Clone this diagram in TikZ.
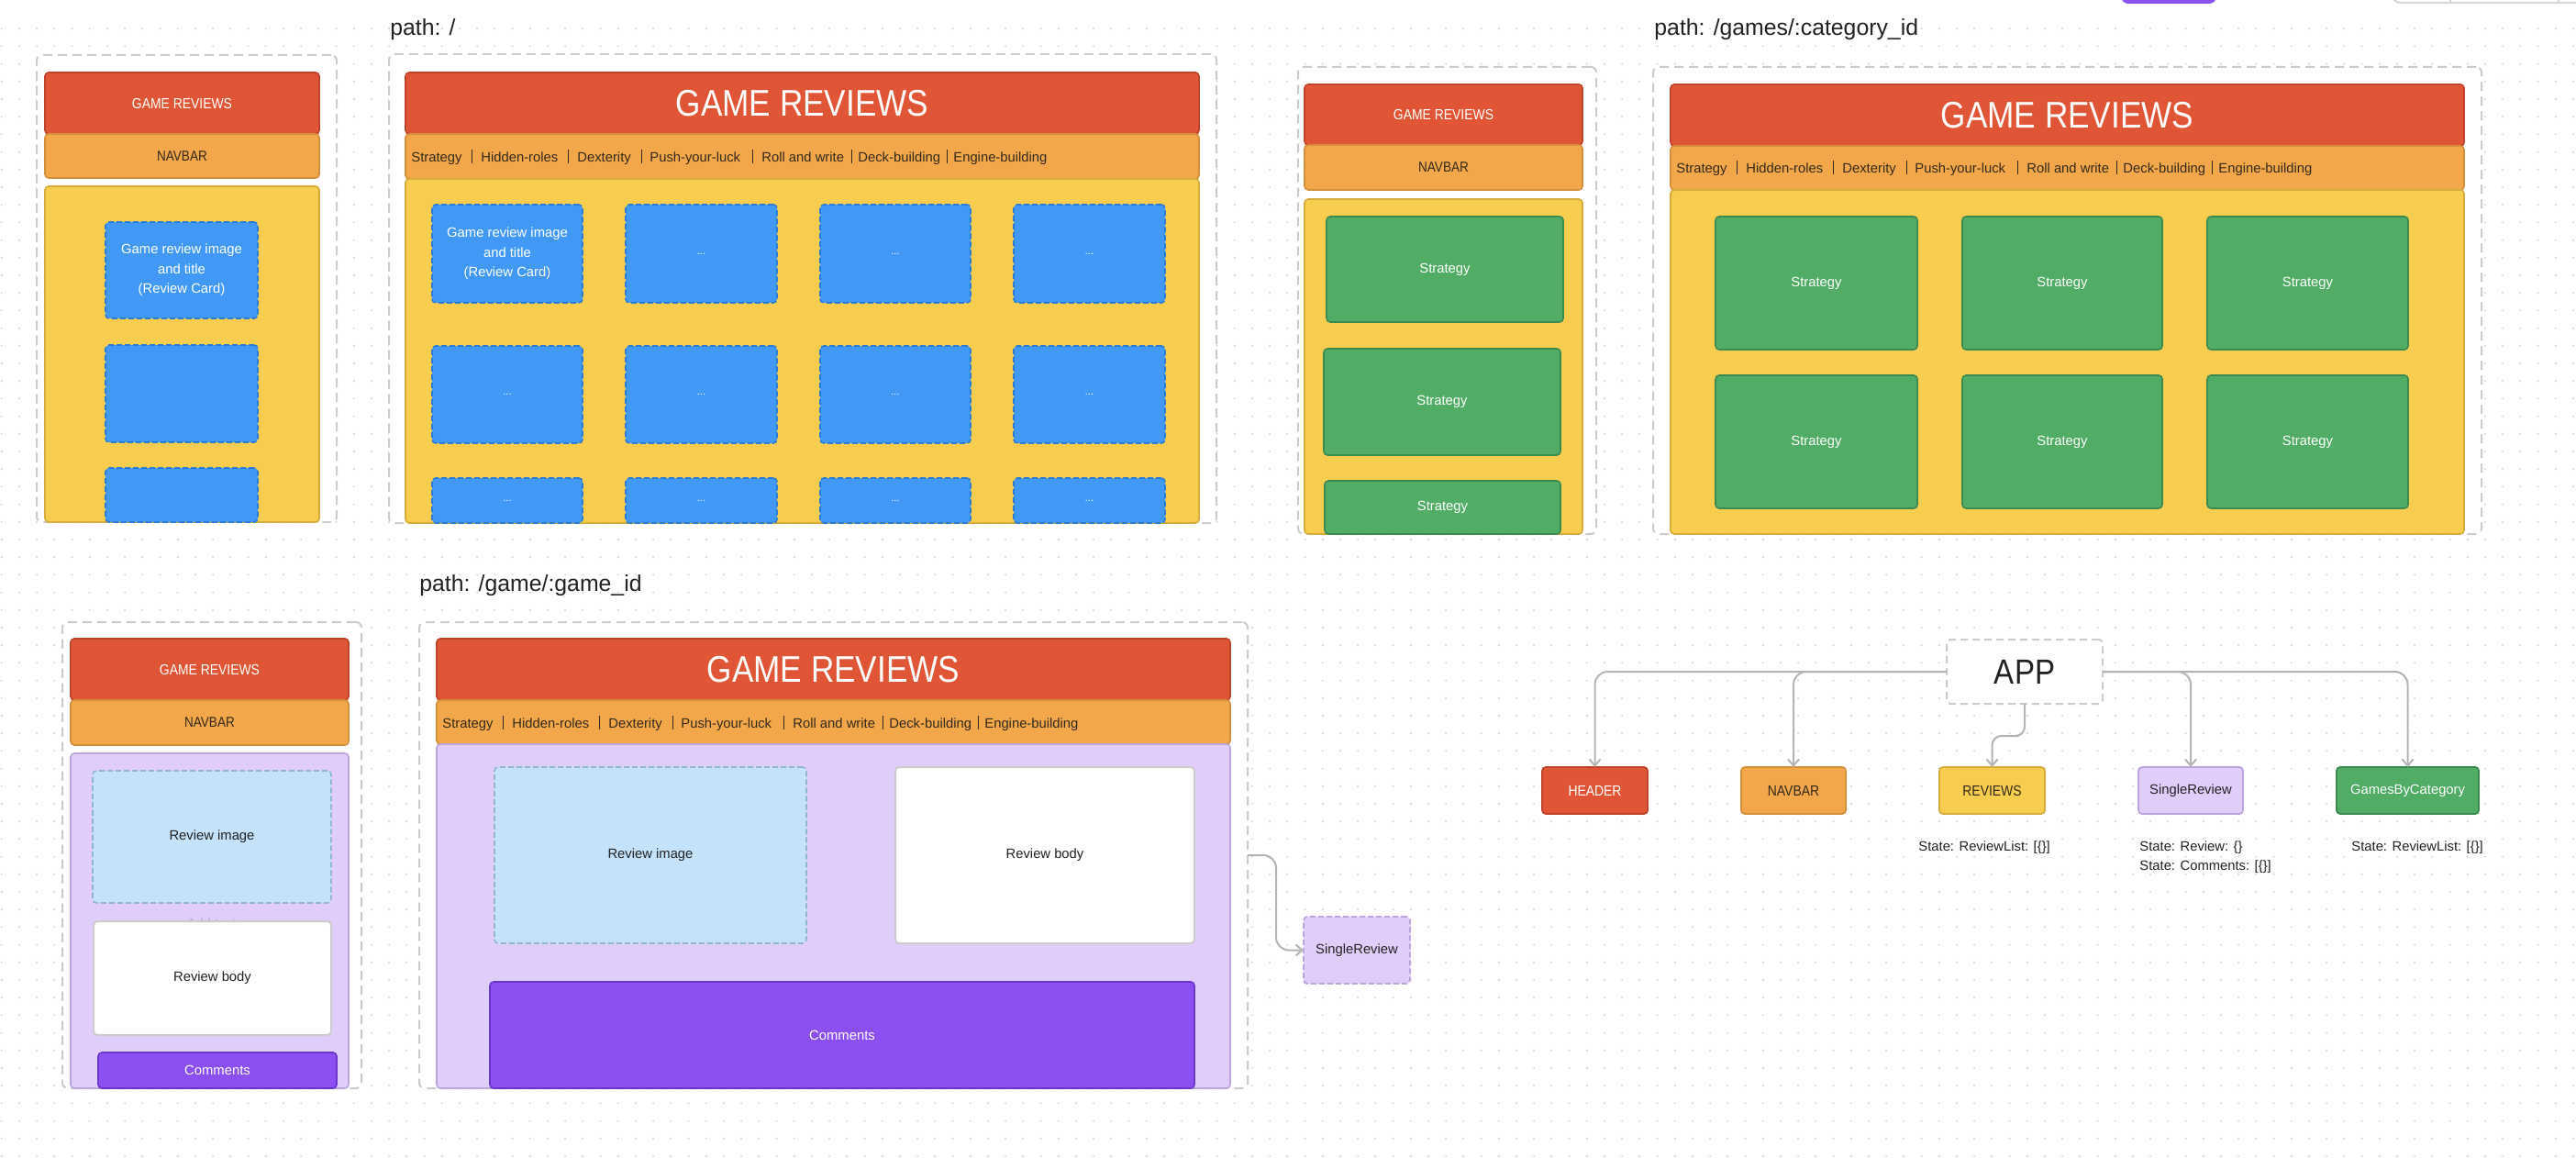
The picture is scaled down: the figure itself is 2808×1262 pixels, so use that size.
\documentclass[tikz,border=0pt]{standalone}
\usepackage{fontspec}
\setmainfont{Liberation Sans}
\newfontfamily\capsfont[FakeStretch=0.87]{Liberation Sans}
\usetikzlibrary{arrows.meta}

\definecolor{hdrfill}{HTML}{E05535}
\definecolor{hdrline}{HTML}{BF432A}
\definecolor{navfill}{HTML}{F2A84A}
\definecolor{navline}{HTML}{D38F39}
\definecolor{bodyfill}{HTML}{F7CD4F}
\definecolor{bodyline}{HTML}{D6AD3C}
\definecolor{cardfill}{HTML}{4299F5}
\definecolor{cardline}{HTML}{2C7CD6}
\definecolor{catfill}{HTML}{51AC66}
\definecolor{catline}{HTML}{3C8A4F}
\definecolor{lavfill}{HTML}{E1CDFA}
\definecolor{lavline}{HTML}{BBA5DB}
\definecolor{imgfill}{HTML}{C4E2FA}
\definecolor{imgline}{HTML}{92B6CE}
\definecolor{comfill}{HTML}{8B4FF2}
\definecolor{comline}{HTML}{6B36CB}
\definecolor{framegray}{HTML}{CCCCCC}
\definecolor{dotgray}{HTML}{D4D4D4}
\definecolor{linkgray}{HTML}{B4B4B4}
\definecolor{ink}{HTML}{222222}
\definecolor{navink}{HTML}{33291C}

% rectangle node from its corners (x1,y1)-(x2,y2), in pixel units
\newcommand\rbox[7]{\node[#2, anchor=north west, minimum width={(#5-#3)*0.5pt}, minimum height={(#6-#4)*0.5pt}] (#1) at (#3,#4) {#7};}
\newcommand\txtsize{\fontsize{7.4}{10.75}\selectfont}

% category links of the wide navigation bar
\newcommand\navlinks[3]{%
  \foreach \o/\t [count=\k] in {6/Strategy,82/Hidden-roles,187/Dexterity,266/Push-your-luck,388/Roll and write,493/Deck-building,597/Engine-building}
    {\node[navitem, anchor=base west] (#3-\k) at ({#1+\o},{#2+6}) {\t};}
  \foreach \o in {72,177,257,378,486,590}
    {\draw[navsep] ({#1+\o},{#2-7.5}) -- ({#1+\o},{#2+7.5});}
}

\tikzset{
  base/.style={inner sep=0pt, outer sep=0pt, rounded corners=2pt, line width=0.8pt, align=center},
  frame/.style={base, draw=framegray, fill=white, line width=1pt, dash pattern=on 5pt off 3pt, rounded corners=3pt},
  hdrbar/.style={base, fill=hdrfill, draw=hdrline, text=white, font=\capsfont\fontsize{8}{9.6}\selectfont},
  bighdr/.style={hdrbar, font=\capsfont\fontsize{20.2}{24}\selectfont},
  navbar/.style={base, fill=navfill, draw=navline, text=navink, font=\capsfont\fontsize{7.8}{9.4}\selectfont},
  navitem/.style={inner sep=0pt, text=navink, font=\txtsize},
  navsep/.style={draw=navink, line width=0.5pt},
  pagebody/.style={base, fill=bodyfill, draw=bodyline},
  card/.style={base, fill=cardfill, draw=cardline, dash pattern=on 3pt off 1.5pt, text=white, font=\txtsize},
  dots/.style={card, font=\fontsize{5.5}{6}\selectfont},
  catcard/.style={base, fill=catfill, draw=catline, text=white, font=\txtsize},
  detail/.style={base, fill=lavfill, draw=lavline},
  imgbox/.style={base, fill=imgfill, draw=imgline, dash pattern=on 3pt off 1.5pt, text=ink, font=\txtsize},
  textbox/.style={base, fill=white, draw=framegray, line width=1pt, text=ink, font=\txtsize},
  combox/.style={base, fill=comfill, draw=comline, text=white, font=\txtsize},
  pathlabel/.style={inner sep=0pt, text=ink, font=\fontsize{12.4}{14}\selectfont},
  statetxt/.style={inner sep=0pt, text=ink, font=\txtsize},
  appbox/.style={base, draw=framegray, fill=white, line width=1pt, dash pattern=on 4pt off 2.5pt, text=ink, font=\capsfont\fontsize{19}{22}\selectfont},
  tnode/.style={base, line width=0.9pt, font=\txtsize},
  capnode/.style={tnode, font=\capsfont\fontsize{8}{9.6}\selectfont},
  link/.style={draw=linkgray, line width=1pt, rounded corners=7pt, -{Straight Barb[length=3.5pt,width=6pt]}},
  dotrow/.style={draw=dotgray, line width=1.1pt, line cap=round, dash pattern=on 0pt off 9.6pt},
}

\begin{document}
\begin{tikzpicture}[x=0.5pt, y=-0.5pt]
\useasboundingbox (0,0) rectangle (2808,1262);
\fill[white] (0,0) rectangle (2808,1262);

% dotted canvas
\foreach \j in {0,...,64}
  \draw[dotrow] (1.7,{31.2+19.2*\j}) -- (2808,{31.2+19.2*\j});

% toolbar remnants along the top edge
\fill[comfill, rounded corners=4pt] (2312,-12) rectangle (2416,4);
\draw[framegray!80, line width=1pt, rounded corners=5pt] (2607,-20) rectangle (2850,3);
\draw[framegray!80, line width=0.6pt] (2671,-2) -- (2671,3);
\draw[framegray!80, line width=0.6pt] (2789,-2) -- (2789,3);

% ---------- home page, narrow ----------
\rbox{p1frame}{frame}{40}{60}{367}{569}{}
\rbox{p1hdr}{hdrbar}{49}{79}{348}{146}{GAME REVIEWS}
\rbox{p1nav}{navbar}{49}{146}{348}{194}{NAVBAR}
\rbox{p1body}{pagebody}{49}{203}{348}{569}{}
\rbox{p1c1}{card}{115}{242}{281}{347}{Game review image\\and title\\(Review Card)}
\rbox{p1c2}{card}{115}{376}{281}{482}{}
\rbox{p1c3}{card}{115}{510}{281}{569}{}

% ---------- home page, wide ----------
\node[pathlabel, anchor=base west] (l1) at (425,39) {path: /};
\rbox{p2frame}{frame}{424}{59}{1326}{570}{}
\rbox{p2hdr}{bighdr}{442}{79}{1307}{146}{GAME REVIEWS}
\rbox{p2nav}{navbar}{442}{146}{1307}{195}{}
\navlinks{442}{170.5}{p2n}
\rbox{p2body}{pagebody}{442}{195}{1307}{570}{}
\rbox{p2c11}{card}{471}{223}{635}{330}{Game review image\\and title\\(Review Card)}
\rbox{p2c12}{dots}{682}{223}{847}{330}{...}
\rbox{p2c13}{dots}{894}{223}{1058}{330}{...}
\rbox{p2c14}{dots}{1105}{223}{1270}{330}{...}
\rbox{p2c21}{dots}{471}{377}{635}{483}{...}
\rbox{p2c22}{dots}{682}{377}{847}{483}{...}
\rbox{p2c23}{dots}{894}{377}{1058}{483}{...}
\rbox{p2c24}{dots}{1105}{377}{1270}{483}{...}
\rbox{p2c31}{dots}{471}{521}{635}{570}{...}
\rbox{p2c32}{dots}{682}{521}{847}{570}{...}
\rbox{p2c33}{dots}{894}{521}{1058}{570}{...}
\rbox{p2c34}{dots}{1105}{521}{1270}{570}{...}

% ---------- category page, narrow ----------
\rbox{p3frame}{frame}{1415}{73}{1740}{582}{}
\rbox{p3hdr}{hdrbar}{1422}{92}{1725}{158}{GAME REVIEWS}
\rbox{p3nav}{navbar}{1422}{158}{1725}{207}{NAVBAR}
\rbox{p3body}{pagebody}{1422}{217}{1725}{582}{}
\rbox{p3g1}{catcard}{1446}{236}{1704}{351}{Strategy}
\rbox{p3g2}{catcard}{1443}{380}{1701}{496}{Strategy}
\rbox{p3g3}{catcard}{1444}{524}{1701}{582}{Strategy}

% ---------- category page, wide ----------
\node[pathlabel, anchor=base west] (l2) at (1803,39) {path: /games/:category\_id};
\rbox{p4frame}{frame}{1802}{73}{2705}{582}{}
\rbox{p4hdr}{bighdr}{1821}{92}{2686}{159}{GAME REVIEWS}
\rbox{p4nav}{navbar}{1821}{159}{2686}{207}{}
\navlinks{1821}{183}{p4n}
\rbox{p4body}{pagebody}{1821}{207}{2686}{582}{}
\rbox{p4g11}{catcard}{1870}{236}{2090}{381}{Strategy}
\rbox{p4g12}{catcard}{2139}{236}{2357}{381}{Strategy}
\rbox{p4g13}{catcard}{2406}{236}{2625}{381}{Strategy}
\rbox{p4g21}{catcard}{1870}{409}{2090}{554}{Strategy}
\rbox{p4g22}{catcard}{2139}{409}{2357}{554}{Strategy}
\rbox{p4g23}{catcard}{2406}{409}{2625}{554}{Strategy}

% ---------- single review page, narrow ----------
\rbox{p5frame}{frame}{68}{678}{394}{1186}{}
\rbox{p5hdr}{hdrbar}{77}{696}{380}{763}{GAME REVIEWS}
\rbox{p5nav}{navbar}{77}{763}{380}{812}{NAVBAR}
\rbox{p5body}{detail}{77}{821}{380}{1186}{}
\rbox{p5img}{imgbox}{101}{840}{361}{984}{Review image}
\node[statetxt, text=lavline] (p5hint) at (231,1006) {Add text};
\rbox{p5text}{textbox}{102}{1004}{361}{1128}{Review body}
\rbox{p5com}{combox}{107}{1147}{367}{1186}{Comments}

% ---------- single review page, wide ----------
\node[pathlabel, anchor=base west] (l3) at (457,644) {path: /game/:game\_id};
\rbox{p6frame}{frame}{457}{678}{1360}{1186}{}
\rbox{p6hdr}{bighdr}{476}{696}{1341}{763}{GAME REVIEWS}
\rbox{p6nav}{navbar}{476}{763}{1341}{811}{}
\navlinks{476}{787}{p6n}
\rbox{p6body}{detail}{476}{811}{1341}{1186}{}
\rbox{p6img}{imgbox}{539}{836}{879}{1028}{Review image}
\rbox{p6text}{textbox}{976}{836}{1302}{1028}{Review body}
\rbox{p6com}{combox}{534}{1070}{1302}{1186}{Comments}

\rbox{srev}{tnode, fill=lavfill, draw=lavline, dash pattern=on 3pt off 1.5pt, text=ink}{1421}{999}{1537}{1072}{SingleReview}
\coordinate (sbend) at (1391,932);
\draw[link] (p6frame.east) -- (sbend) |- (srev.west);

% ---------- component tree ----------
\rbox{app}{appbox}{2122}{697}{2292}{767}{APP}
\rbox{thead}{capnode, fill=hdrfill, draw=hdrline, text=white}{1681}{836}{1796}{887}{HEADER}
\rbox{tnav}{capnode, fill=navfill, draw=navline, text=navink}{1898}{836}{2012}{887}{NAVBAR}
\rbox{trev}{capnode, fill=bodyfill, draw=bodyline, text=navink}{2114}{836}{2229}{887}{REVIEWS}
\rbox{tsingle}{tnode, fill=lavfill, draw=lavline, text=ink}{2331}{836}{2445}{887}{SingleReview}
\rbox{tgames}{tnode, fill=catfill, draw=catline, text=white}{2547}{836}{2702}{887}{GamesByCategory}

\coordinate (rmid) at (2190,802);
\draw[link] (app.west) -| (thead.north);
\draw[link] (app.west) -| (tnav.north);
\draw[link, rounded corners=5pt] (app.south) |- (rmid) -| (trev.north);
\draw[link] (app.east) -| (tsingle.north);
\draw[link] (app.east) -| (tgames.north);

\node[statetxt, anchor=base west] (s1) at (2091,927) {State: ReviewList: [\{\}]};
\node[statetxt, anchor=base west] (s2) at (2332,927) {State: Review: \{\}};
\node[statetxt, anchor=base west] (s3) at (2332,948) {State: Comments: [\{\}]};
\node[statetxt, anchor=base west] (s4) at (2563,927) {State: ReviewList: [\{\}]};
\end{tikzpicture}
\end{document}
